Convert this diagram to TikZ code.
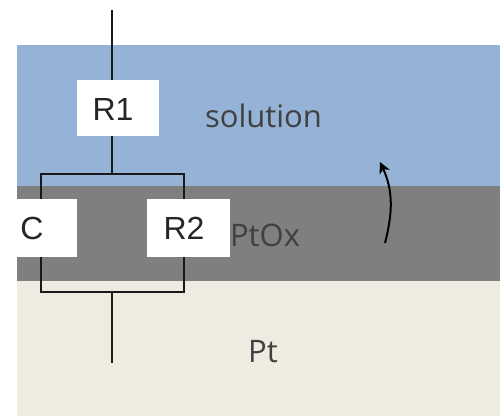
\documentclass[tikz,border=0pt]{standalone}
\usepackage{fontspec}
\usetikzlibrary{arrows.meta}
\setmainfont{Open Sans}
\newfontfamily\labfont{Liberation Sans}
\definecolor{solc}{HTML}{95B3D7}
\definecolor{oxc}{HTML}{7F7F7F}
\definecolor{ptc}{HTML}{EEECE1}
\tikzset{x=1pt,y=-1pt,
 wire/.style={line width=2.5pt,black!90},
 lab/.style={fill=white,inner sep=0pt,font=\labfont\fontsize{32}{34}\selectfont,text=black!85},
 txt/.style={inner sep=0pt,font=\fontsize{31}{34}\selectfont,text=black!75}}
\begin{document}
\begin{tikzpicture}
\useasboundingbox (0,0) rectangle (500,416);
\fill[white] (0,0) rectangle (500,416);
\fill[solc] (17,45) rectangle (500,186);
\fill[oxc] (17,186) rectangle (500,281);
\fill[ptc] (17,281) rectangle (500,416);
\coordinate (top) at (112,10);
\coordinate (bot) at (112,363);
\coordinate (tj) at (112,174);
\coordinate (bj) at (112,292);
\coordinate (tl) at (41,174);
\coordinate (tr) at (184,174);
\coordinate (bl) at (41,292);
\coordinate (br) at (184,292);
\draw[wire] (top) -- (tj);
\draw[wire] (bj) -- (bot);
\draw[wire] (tl) -- (tr) -- (br) -- (bl) -- cycle;
\node[fill=white,minimum width=82,minimum height=56,inner sep=0pt] (r1box) at (118,108) {};
\node[fill=white,minimum width=60,minimum height=58,inner sep=0pt] (cbox) at (47,228) {};
\node[fill=white,minimum width=83,minimum height=58,inner sep=0pt] (r2box) at (188.5,228) {};
\node[lab] (r1) at (113,109.5) {R1};
\node[lab] (c) at (32,228.5) {C};
\node[lab] (r2) at (184,228.5) {R2};
\node[txt] (sol) at (263.5,116) {solution};
\node[txt] (ptox) at (265,235) {PtOx};
\node[txt] (pt) at (263,352) {Pt};
\coordinate (a1) at (385,243);
\coordinate (a2) at (380,162);
\draw[black,line width=2pt,-{Stealth[length=11pt,width=11pt,inset=3pt]}] (a1) .. controls (393,212) and (393,190) .. (a2);
\end{tikzpicture}
\end{document}
